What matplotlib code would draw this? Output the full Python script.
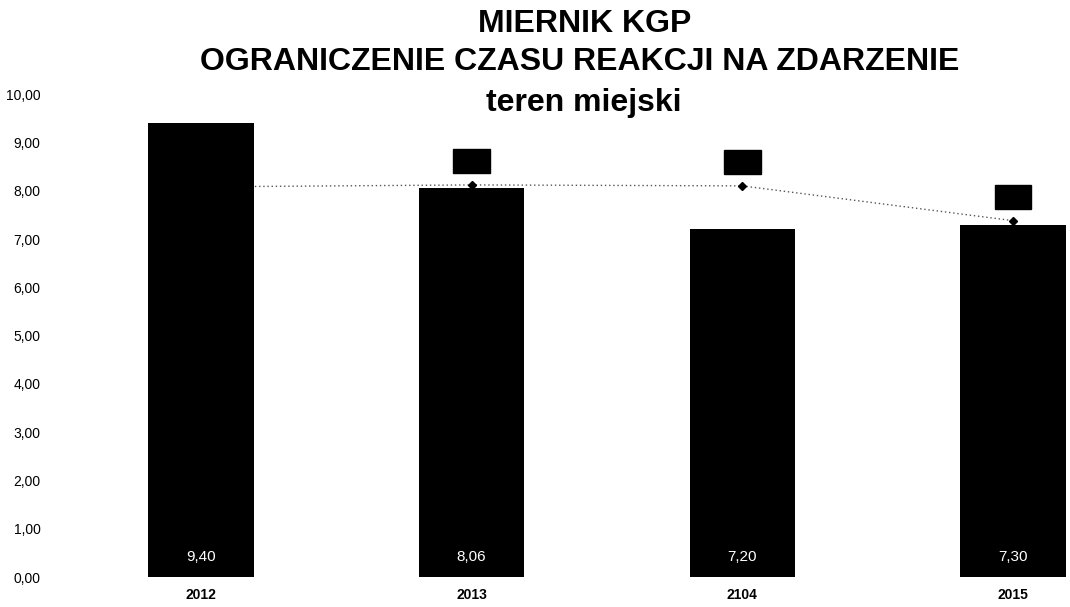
import matplotlib
matplotlib.use('Agg')
import matplotlib.pyplot as plt
from matplotlib.ticker import FuncFormatter

plt.rcParams['font.family'] = ['Liberation Sans', 'DejaVu Sans']

# dane
lata = ['2012', '2013', '2104', '2015']
czas_reakcji = [9.40, 8.06, 7.20, 7.30]
linia = [8.08, 8.12, 8.10, 7.38]

fig = plt.figure(figsize=(10.7, 6.07), dpi=100)
ax = fig.add_axes([0.056, 0.049, 0.944, 0.796])

x = range(len(lata))
bars = ax.bar(x, czas_reakcji, width=0.39, color='black', zorder=2)

# linia kropkowana z markerami (za słupkami)
ax.plot(x, linia, linestyle=(0, (1, 2)), color='#555555', linewidth=1.0,
        marker='D', markersize=4, markerfacecolor='black', markeredgecolor='black', zorder=1)

# etykiety wartości linii - czarne prostokąty
for i, v in enumerate(linia):
    if i == 0:
        continue
    ax.annotate(f"{v:.2f}".replace('.', ','), (i, v), xytext=(0, 17), textcoords='offset points',
                ha='center', va='center', fontsize=10, color='black',
                bbox=dict(boxstyle='square,pad=0.35', fc='black', ec='black'), zorder=3)

# etykiety słupków u dołu
for b, v in zip(bars, czas_reakcji):
    ax.text(b.get_x() + b.get_width() / 2, 0.42, f"{v:.2f}".replace('.', ','),
            ha='center', va='center', color='white', fontsize=11, zorder=3)

ax.set_ylim(0, 10)
ax.set_xlim(-0.52, 3.21)
ax.set_yticks(range(0, 11))
ax.yaxis.set_major_formatter(FuncFormatter(lambda v, p: f"{v:.2f}".replace('.', ',')))
ax.set_xticks(list(x))
ax.set_xticklabels(lata, fontweight='bold', fontsize=10)
ax.tick_params(axis='both', length=0)
ax.tick_params(axis='y', labelsize=10, pad=14)
ax.tick_params(axis='x', pad=8)
for s in ax.spines.values():
    s.set_visible(False)

fig.text(0.546, 0.960, 'MIERNIK KGP', ha='center', va='center', fontsize=23, fontweight='bold')
fig.text(0.542, 0.898, 'OGRANICZENIE CZASU REAKCJI NA ZDARZENIE', ha='center', va='center',
         fontsize=23, fontweight='bold')
fig.text(0.546, 0.830, 'teren miejski', ha='center', va='center', fontsize=23, fontweight='bold')

fig.savefig('out.png', dpi=100)
